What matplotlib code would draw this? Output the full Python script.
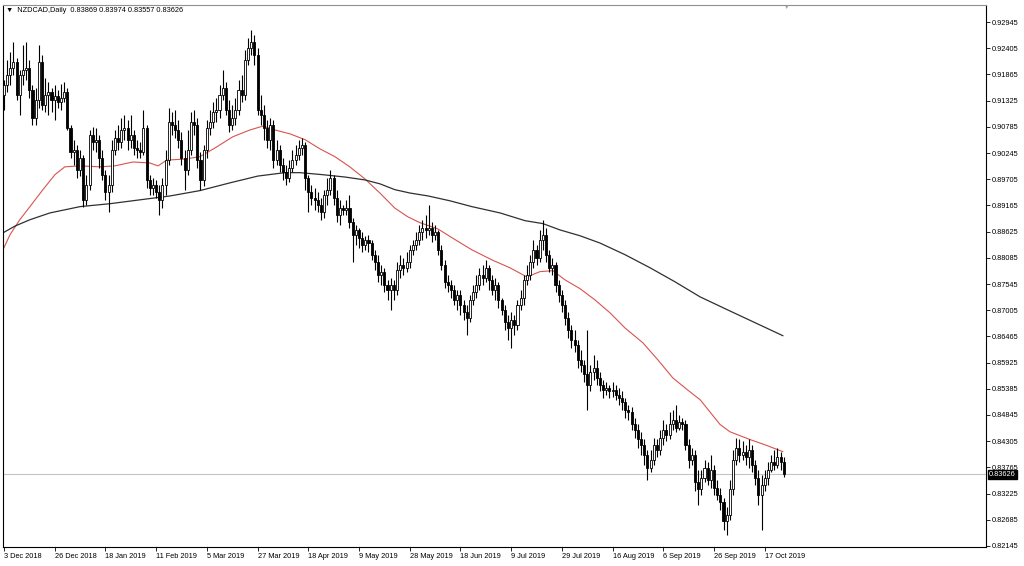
import matplotlib.pyplot as plt
import numpy as np

# NZDCAD daily candles
open_first = 0.9144
close = [
    .9165, .9186, .9200, .9212, .9144, .9186, .9196, .9200, .9155, .9097,
    .9134, .9212, .9124, .9144, .9151, .9134, .9142, .9130, .9138, .9151,
    .9076, .9027, .9031, .8990, .9015, .8928, .8959, .9062, .9048, .9052,
    .9015, .8980, .8945, .8959, .9031, .9056, .9048, .9072, .9076, .9052,
    .9062, .9035, .9031, .9027, .9076, .8969, .8953, .8959, .8945, .8928,
    .8959, .9010, .9089, .9083, .9072, .9052, .9015, .8990, .9031, .9089,
    .9083, .9010, .8969, .9031, .9076, .9089, .9109, .9113, .9144, .9159,
    .9113, .9083, .9097, .9113, .9155, .9144, .9216, .9241, .9253, .9227,
    .9113, .9103, .9076, .9052, .9083, .9010, .9031, .9000, .8986, .8973,
    .8994, .9010, .9021, .9035, .9041, .8973, .8945, .8932, .8928, .8918,
    .8903, .8938, .8949, .8973, .8932, .8897, .8912, .8907, .8912, .8883,
    .8856, .8866, .8850, .8835, .8846, .8839, .8815, .8800, .8774, .8780,
    .8753, .8743, .8753, .8743, .8784, .8794, .8788, .8800, .8825, .8835,
    .8846, .8862, .8870, .8866, .8870, .8856, .8862, .8825, .8794, .8759,
    .8753, .8743, .8722, .8732, .8712, .8697, .8685, .8722, .8739, .8753,
    .8774, .8767, .8788, .8763, .8743, .8753, .8722, .8701, .8677, .8664,
    .8681, .8671, .8712, .8726, .8763, .8774, .8800, .8825, .8809, .8846,
    .8856, .8815, .8788, .8794, .8753, .8732, .8712, .8685, .8660, .8640,
    .8629, .8598, .8588, .8568, .8547, .8574, .8582, .8561, .8547, .8537,
    .8541, .8533, .8537, .8526, .8520, .8512, .8495, .8491, .8465, .8454,
    .8434, .8423, .8403, .8376, .8392, .8423, .8413, .8438, .8454, .8444,
    .8465, .8475, .8458, .8471, .8465, .8423, .8392, .8403, .8347, .8331,
    .8355, .8376, .8351, .8372, .8335, .8320, .8306, .8265, .8279, .8331,
    .8392, .8417, .8403, .8409, .8397, .8413, .8382, .8355, .8320, .8341,
    .8355, .8372, .8388, .8382, .8397, .83869, .83626,
]
high = [
    .9175, .9216, .9233, .9253, .9220, .9196, .9247, .9253, .9216, .9165,
    .9159, .9247, .9227, .9179, .9171, .9159, .9165, .9155, .9167, .9171,
    .9159, .9083, .9052, .9041, .9031, .9021, .8980, .9072, .9078, .9076,
    .9062, .9031, .8990, .8980, .9052, .9072, .9083, .9097, .9103, .9093,
    .9103, .9072, .9052, .9048, .9113, .9083, .8980, .8973, .8969, .8959,
    .8973, .9031, .9118, .9109, .9113, .9093, .9068, .9031, .9072, .9109,
    .9113, .9097, .9027, .9041, .9093, .9113, .9130, .9138, .9165, .9196,
    .9171, .9134, .9124, .9138, .9175, .9186, .9237, .9262, .9278, .9268,
    .9241, .9144, .9124, .9093, .9097, .9093, .9052, .9041, .9015, .9000,
    .9010, .9031, .9041, .9052, .9056, .9048, .8980, .8959, .8953, .8945,
    .8932, .8949, .8973, .8990, .8980, .8949, .8928, .8918, .8928, .8938,
    .8891, .8877, .8870, .8862, .8854, .8856, .8846, .8825, .8815, .8794,
    .8788, .8763, .8767, .8763, .8800, .8815, .8809, .8821, .8835, .8846,
    .8862, .8877, .8887, .8897, .8918, .8883, .8877, .8866, .8835, .8804,
    .8774, .8763, .8753, .8743, .8743, .8722, .8712, .8732, .8753, .8774,
    .8788, .8794, .8804, .8794, .8774, .8767, .8759, .8726, .8712, .8691,
    .8697, .8691, .8722, .8743, .8774, .8794, .8815, .8846, .8835, .8866,
    .8887, .8870, .8825, .8809, .8800, .8763, .8743, .8722, .8697, .8671,
    .8660, .8640, .8619, .8598, .8660, .8588, .8609, .8598, .8574, .8557,
    .8553, .8547, .8553, .8547, .8541, .8533, .8520, .8506, .8500, .8479,
    .8465, .8450, .8434, .8413, .8413, .8438, .8434, .8454, .8475, .8465,
    .8491, .8495, .8506, .8485, .8479, .8475, .8434, .8417, .8413, .8372,
    .8372, .8392, .8388, .8403, .8382, .8351, .8335, .8314, .8294, .8351,
    .8413, .8438, .8434, .8430, .8423, .8434, .8423, .8392, .8372, .8361,
    .8372, .8388, .8403, .8413, .8417, .8409, .83974,
]
low = [
    .9113, .9151, .9165, .9186, .9134, .9103, .9165, .9175, .9138, .9083,
    .9083, .9118, .9113, .9109, .9103, .9109, .9093, .9118, .9113, .9130,
    .9072, .9015, .9000, .8973, .8977, .8914, .8918, .8949, .9031, .9027,
    .8994, .8969, .8928, .8903, .8945, .9021, .9031, .9035, .9052, .9031,
    .9035, .9021, .9015, .9015, .9021, .8953, .8938, .8938, .8932, .8897,
    .8912, .8938, .9000, .9062, .9056, .9035, .9000, .8949, .8980, .9021,
    .9062, .8994, .8949, .8957, .9015, .9062, .9076, .9089, .9097, .9134,
    .9103, .9068, .9072, .9083, .9103, .9130, .9134, .9206, .9227, .9206,
    .9103, .9083, .9052, .9035, .9031, .8994, .9000, .8986, .8969, .8959,
    .8965, .8986, .9000, .9010, .9021, .8949, .8903, .8918, .8907, .8903,
    .8887, .8891, .8918, .8938, .8918, .8883, .8877, .8897, .8897, .8870,
    .8800, .8835, .8829, .8821, .8825, .8821, .8804, .8784, .8759, .8753,
    .8739, .8722, .8701, .8722, .8732, .8767, .8774, .8780, .8788, .8815,
    .8825, .8835, .8846, .8850, .8856, .8842, .8846, .8815, .8784, .8747,
    .8739, .8726, .8712, .8701, .8691, .8681, .8650, .8677, .8712, .8726,
    .8743, .8753, .8759, .8743, .8732, .8722, .8706, .8691, .8660, .8640,
    .8623, .8650, .8660, .8701, .8712, .8753, .8763, .8788, .8794, .8800,
    .8825, .8800, .8780, .8774, .8739, .8718, .8697, .8671, .8644, .8623,
    .8615, .8582, .8574, .8553, .8495, .8533, .8557, .8547, .8533, .8520,
    .8526, .8520, .8522, .8516, .8506, .8495, .8479, .8475, .8454, .8438,
    .8417, .8403, .8382, .8351, .8368, .8382, .8397, .8403, .8423, .8430,
    .8434, .8454, .8450, .8454, .8454, .8413, .8376, .8382, .8327, .8300,
    .8320, .8347, .8341, .8335, .8320, .8310, .8289, .8248, .8238, .8269,
    .8320, .8382, .8388, .8392, .8382, .8376, .8368, .8341, .8300, .8248,
    .8327, .8341, .8368, .8372, .8376, .8372, .83557,
]

# moving averages sampled along the chart (bar position, price)
red_bars = [-0.3, 1.9, 5, 8.2, 12.3, 16.1, 19.2, 24, 30.3, 35, 40.7, 46, 48.6,
            51.4, 57.1, 61.8, 66.6, 72.2, 77.6, 81.7, 85.5, 90.2, 95, 99.7,
            104.4, 109.1, 113.9, 118.6, 123.3, 127.4, 131.2, 136.9, 142.3,
            147.6, 154, 159.6, 165, 169.1, 173.2, 177, 181.7, 186.4, 191.2,
            195.9, 201.6, 206.3, 211, 215.5, 219.6, 222.7, 225.9, 229, 235.3,
            240.1, 245.7]
red_ma = [.8825, .8856, .8887, .8914, .8949, .8980, .8996, .8998, .8996, .8998,
          .9006, .9004, .8998, .9010, .9012, .9017, .9035, .9058, .9072, .9080,
          .9072, .9064, .9052, .9033, .9017, .8996, .8971, .8942, .8911, .8893,
          .8881, .8868, .8846, .8825, .8804, .8788, .8769, .8780, .8782, .8763,
          .8745, .8722, .8695, .8664, .8633, .8598, .8561, .8537, .8516, .8491,
          .8465, .8450, .8434, .8423, .8409]
black_bars = [-0.3, 3.5, 8.2, 14.5, 24, 33.4, 42.9, 52.4, 61.8, 71.3, 80.1, 88.6,
              93.4, 100.3, 107.6, 113.9, 118.6, 123.3, 128.1, 133.8, 140.7,
              147.6, 156.5, 164.4, 170, 175.4, 181.7, 188, 195.9, 203.8, 211.7,
              219.6, 229, 238.5, 245.7]
black_ma = [.8860, .8874, .8887, .8901, .8914, .8920, .8928, .8936, .8947, .8963,
            .8977, .8984, .8984, .8980, .8975, .8969, .8961, .8949, .8942, .8936,
            .8926, .8914, .8901, .8885, .8879, .8866, .8854, .8839, .8815, .8788,
            .8759, .8728, .8699, .8670, .8648]

date_labels = ["3 Dec 2018", "26 Dec 2018", "18 Jan 2019", "11 Feb 2019",
               "5 Mar 2019", "27 Mar 2019", "18 Apr 2019", "9 May 2019",
               "28 May 2019", "18 Jun 2019", "9 Jul 2019", "29 Jul 2019",
               "16 Aug 2019", "6 Sep 2019", "26 Sep 2019", "17 Oct 2019"]
date_bars = list(range(0, 241, 16))

price_ticks = [0.82145 + 0.0054 * k for k in range(21)]
last_price = 0.83626

plt.rcParams['font.family'] = ['Liberation Sans', 'DejaVu Sans']

c = np.array(close)
o = np.concatenate([[open_first], c[:-1]])
h = np.maximum(np.array(high), np.maximum(o, c))
l = np.minimum(np.array(low), np.minimum(o, c))
x = np.arange(len(c))

fig = plt.figure(figsize=(10.24, 5.66), dpi=100)
ax = fig.add_axes([3 / 1024, 1 - 547 / 566, 983 / 1024, 542 / 566])

ax.axhline(last_price, color='#c4c4c4', lw=0.8, zorder=1)

ax.vlines(x, l, h, color='black', lw=0.8, zorder=3)
up = c >= o
body_lo = np.minimum(o, c)
body_h = np.abs(c - o)
ax.bar(x[up], body_h[up], bottom=body_lo[up], width=0.65, color='white',
       edgecolor='black', lw=0.6, zorder=4)
ax.bar(x[~up], body_h[~up], bottom=body_lo[~up], width=0.65, color='black',
       edgecolor='black', lw=0.6, zorder=4)

ax.plot(red_bars, red_ma, color='#d9534f', lw=0.8, zorder=2)
ax.plot(black_bars, black_ma, color='#303030', lw=0.9, zorder=2)

ax.set_xlim(-0.3, 309.8)
ax.set_ylim(0.82124, 0.93296)

ax.yaxis.tick_right()
ax.set_yticks(price_ticks)
ax.set_yticklabels(['%.5f' % p for p in price_ticks])
ax.tick_params(axis='y', length=3, width=0.6, pad=1.5, labelsize=5.3)
ax.set_xticks(date_bars)
ax.set_xticklabels(date_labels)
ax.tick_params(axis='x', length=3, width=0.6, pad=1.5, labelsize=5.3)
for t in ax.get_xticklabels():
    t.set_horizontalalignment('left')

for s in ax.spines.values():
    s.set_linewidth(0.8)
ax.spines['top'].set_color('#909090')

ax.annotate('%.5f' % last_price, xy=(1.0, last_price),
            xycoords=('axes fraction', 'data'), xytext=(2, 0),
            textcoords='offset points', ha='left', va='center',
            fontsize=5.3, color='white', zorder=10,
            bbox=dict(boxstyle='square,pad=0.15', fc='black', ec='black'))

fig.text(6 / 1024, 1 - 10 / 566,
         '\u25bc  NZDCAD,Daily  0.83869 0.83974 0.83557 0.83626',
         fontsize=5.3, va='center', ha='left')
# chart-shift marker at the top border
ax.text(247, 1.0, '\u25bc', transform=ax.get_xaxis_transform(),
        fontsize=4, color='#a0a0a0', ha='center', va='top')

fig.savefig('out.png', dpi=100, facecolor='white')
